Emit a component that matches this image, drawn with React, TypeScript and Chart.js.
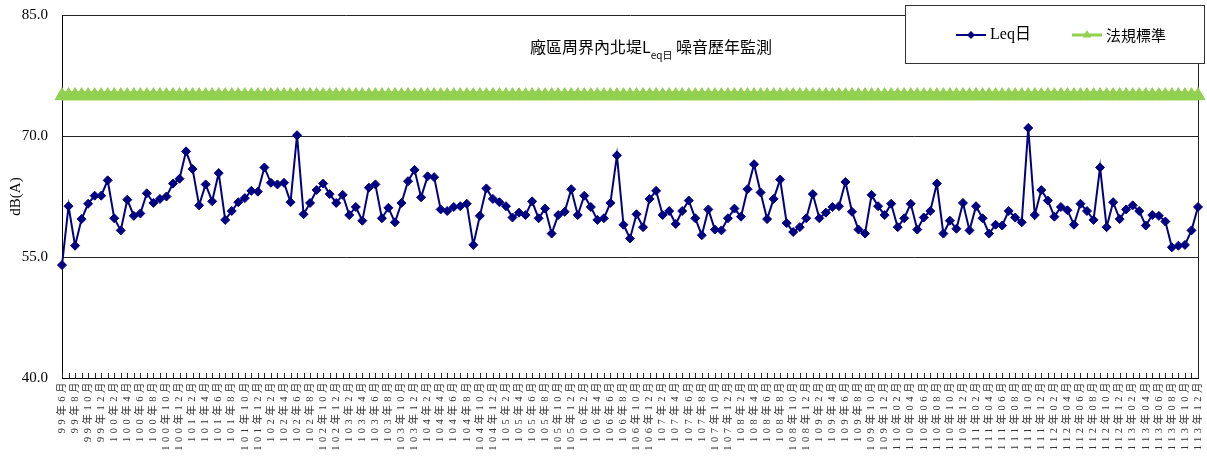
import React, { useEffect, useRef } from 'react';
import { Chart, registerables } from 'chart.js';

Chart.register(...registerables);

// ---------- data ----------
const startYear = 99;
const startMonth = 6;
const endYear = 113;

const categories: string[] = [];
for (let y = startYear; y <= endYear; y++) {
  for (let m = y === startYear ? startMonth : 1; m <= 12; m++) {
    categories.push(y >= 110 ? `${y}年${String(m).padStart(2, '0')}月` : `${y}年${m}月`);
  }
}

const leqDay: number[] = [
  54.0, 61.3, 56.4, 59.7, 61.6, 62.6, 62.6, 64.5, 59.8, 58.3,
  62.1, 60.1, 60.4, 62.9, 61.7, 62.2, 62.5, 64.1, 64.7, 68.1,
  65.9, 61.4, 64.0, 61.9, 65.4, 59.6, 60.7, 61.8, 62.3, 63.2,
  63.1, 66.1, 64.2, 64.0, 64.2, 61.8, 70.1, 60.3, 61.7, 63.3,
  64.1, 62.8, 61.7, 62.7, 60.2, 61.2, 59.5, 63.6, 64.0, 59.8,
  61.1, 59.3, 61.7, 64.4, 65.8, 62.4, 65.0, 64.9, 60.9, 60.7,
  61.2, 61.3, 61.6, 56.5, 60.1, 63.5, 62.2, 61.8, 61.3, 59.9,
  60.5, 60.2, 61.9, 59.8, 61.0, 57.9, 60.2, 60.6, 63.4, 60.2,
  62.6, 61.2, 59.6, 59.8, 61.7, 67.6, 59.0, 57.3, 60.3, 58.7,
  62.2, 63.2, 60.2, 60.7, 59.1, 60.7, 62.0, 59.8, 57.7, 60.9,
  58.4, 58.3, 59.8, 61.0, 60.0, 63.4, 66.5, 63.0, 59.7, 62.2,
  64.6, 59.2, 58.1, 58.7, 59.8, 62.8, 59.8, 60.5, 61.2, 61.3,
  64.3, 60.6, 58.4, 57.9, 62.7, 61.3, 60.2, 61.6, 58.7, 59.8,
  61.6, 58.4, 59.9, 60.7, 64.1, 57.9, 59.5, 58.5, 61.7, 58.3,
  61.3, 59.8, 57.9, 59.0, 58.9, 60.7, 59.9, 59.3, 71.0, 60.2,
  63.3, 62.0, 60.0, 61.2, 60.8, 59.0, 61.6, 60.7, 59.6, 66.1,
  58.7, 61.8, 59.7, 60.9, 61.4, 60.7, 58.9, 60.2, 60.1, 59.4,
  56.2, 56.4, 56.5, 58.3, 61.2,
];

const standardValue = 75;
const standardLimit: number[] = categories.map(() => standardValue);

const yMin = 40;
const yMax = 85;
const yStep = 15;

const seriesNames = ['Leq日', '法規標準'];
const titleParts = ['廠區周界內北堤L', 'eq日', ' 噪音歷年監測'];
const yTitle = 'dB(A)';

// ---------- style ----------
const NAVY = '#000080';
const GREEN = '#92D050';
const SERIF = '"Liberation Serif", "Noto Sans CJK TC", serif';
const CJK = '"Noto Sans CJK TC", "Liberation Serif", sans-serif';

function drawDiamond(ctx: CanvasRenderingContext2D, x: number, y: number, r: number) {
  ctx.beginPath();
  ctx.moveTo(x, y - r);
  ctx.lineTo(x + r, y);
  ctx.lineTo(x, y + r);
  ctx.lineTo(x - r, y);
  ctx.closePath();
  ctx.fill();
}

function drawTriangle(ctx: CanvasRenderingContext2D, x: number, y: number, r: number) {
  ctx.beginPath();
  ctx.moveTo(x, y - r);
  ctx.lineTo(x + r * 0.866, y + r * 0.5);
  ctx.lineTo(x - r * 0.866, y + r * 0.5);
  ctx.closePath();
  ctx.fill();
}

const decorPlugin = {
  id: 'decor',
  beforeDraw(chart: any) {
    const xs = chart.scales.x;
    if (xs && !xs.__patched) {
      const orig = xs.drawLabels.bind(xs);
      xs.drawLabels = (area: any) => {
        const c = chart.ctx as any;
        c.save();
        c.letterSpacing = '3.5px';
        orig(area);
        c.restore();
      };
      xs.__patched = true;
    }
  },
  beforeDatasetsDraw(chart: any) {
    const { ctx, chartArea: a, scales } = chart;
    const xs = scales.x;
    ctx.save();
    ctx.strokeStyle = '#222';
    ctx.lineWidth = 1;
    ctx.beginPath();
    for (let i = 0; i < categories.length; i++) {
      const px = Math.round(xs.getPixelForValue(i)) + 0.5;
      ctx.moveTo(px, a.bottom);
      ctx.lineTo(px, a.bottom - 5);
    }
    // right border of plot area
    ctx.moveTo(Math.round(a.right) + 0.5, a.top);
    ctx.lineTo(Math.round(a.right) + 0.5, a.bottom);
    ctx.stroke();
    ctx.restore();
  },
  afterDraw(chart: any) {
    const { ctx } = chart;
    ctx.save();
    // title
    ctx.fillStyle = '#000';
    ctx.textBaseline = 'middle';
    ctx.textAlign = 'left';
    let tx = 530;
    ctx.font = `16px ${CJK}`;
    ctx.fillText(titleParts[0], tx, 47);
    tx += ctx.measureText(titleParts[0]).width;
    ctx.font = `10px ${CJK}`;
    ctx.fillText(titleParts[1], tx, 55);
    tx += ctx.measureText(titleParts[1]).width;
    ctx.font = `16px ${CJK}`;
    ctx.fillText(titleParts[2], tx, 47);

    // legend box
    const lx = 905, ly = 5, lw = 299, lh = 58;
    ctx.fillStyle = '#fff';
    ctx.fillRect(lx, ly, lw, lh);
    ctx.strokeStyle = '#333';
    ctx.lineWidth = 1;
    ctx.strokeRect(lx + 0.5, ly + 0.5, lw, lh);

    const cy = 35;
    ctx.strokeStyle = NAVY;
    ctx.lineWidth = 2;
    ctx.beginPath();
    ctx.moveTo(956, cy);
    ctx.lineTo(986, cy);
    ctx.stroke();
    ctx.fillStyle = NAVY;
    drawDiamond(ctx, 971, cy, 4);

    ctx.strokeStyle = GREEN;
    ctx.lineWidth = 3;
    ctx.beginPath();
    ctx.moveTo(1072, cy);
    ctx.lineTo(1102, cy);
    ctx.stroke();
    ctx.fillStyle = GREEN;
    drawTriangle(ctx, 1087, cy, 5);

    ctx.fillStyle = '#000';
    ctx.font = `16px ${SERIF}`;
    ctx.fillText(seriesNames[0], 990, cy);
    ctx.font = `15px ${CJK}`;
    ctx.fillText(seriesNames[1], 1106, cy);
    ctx.restore();
  },
};

export default function App() {
  const canvasRef = useRef<HTMLCanvasElement | null>(null);

  useEffect(() => {
    const canvas = canvasRef.current;
    if (!canvas) return;
    const chart = new Chart(canvas, {
      type: 'line',
      data: {
        labels: categories,
        datasets: [
          {
            label: seriesNames[1],
            data: standardLimit,
            borderColor: GREEN,
            backgroundColor: GREEN,
            borderWidth: 9,
            pointStyle: 'triangle',
            pointRadius: 8,
            pointBorderWidth: 1,
            pointBackgroundColor: GREEN,
            pointBorderColor: GREEN,
            tension: 0,
          },
          {
            label: seriesNames[0],
            data: leqDay,
            borderColor: NAVY,
            backgroundColor: NAVY,
            borderWidth: 2,
            pointStyle: 'rectRot',
            pointRadius: 4.5,
            pointBorderWidth: 1,
            pointBackgroundColor: NAVY,
            pointBorderColor: NAVY,
            tension: 0,
          },
        ],
      },
      options: {
        animation: false,
        responsive: false,
        devicePixelRatio: 1,
        layout: { padding: { top: 15, right: 7, left: 0, bottom: 0 } },
        plugins: {
          legend: { display: false },
          tooltip: { enabled: false },
          title: { display: false },
        },
        scales: {
          x: {
            type: 'category',
            offset: false,
            grid: { display: true, drawOnChartArea: false, drawTicks: false },
            border: { display: true, color: '#000', width: 1 },
            ticks: {
              autoSkip: false,
              minRotation: 90,
              maxRotation: 90,
              padding: 1,
              color: '#333',
              font: { family: SERIF, size: 10.5 },
              callback: (_v: any, i: number) => (i % 2 === 0 ? categories[i] : ''),
            },
            afterFit: (s: any) => {
              s.height = 84;
              s.paddingLeft = 0;
              s.paddingRight = 0;
            },
          },
          y: {
            min: yMin,
            max: yMax,
            grid: { color: '#222', lineWidth: 1, drawTicks: false },
            border: { display: true, color: '#000', width: 1 },
            ticks: {
              stepSize: yStep,
              padding: 14,
              color: '#000',
              font: { family: SERIF, size: 15 },
              callback: (v: any) => Number(v).toFixed(1),
            },
            title: {
              display: true,
              text: yTitle,
              color: '#000',
              font: { family: SERIF, size: 15 },
              padding: { top: 7, bottom: 0 },
            },
            afterFit: (s: any) => {
              s.width = 62;
              s.paddingTop = 0;
              s.paddingBottom = 0;
            },
          },
        },
      },
      plugins: [decorPlugin],
    });
    return () => chart.destroy();
  }, []);

  return (
    <div style={{ position: 'fixed', left: 0, top: 0, width: 1207, height: 462, background: '#fff' }}>
      <canvas ref={canvasRef} width={1207} height={462} />
    </div>
  );
}
